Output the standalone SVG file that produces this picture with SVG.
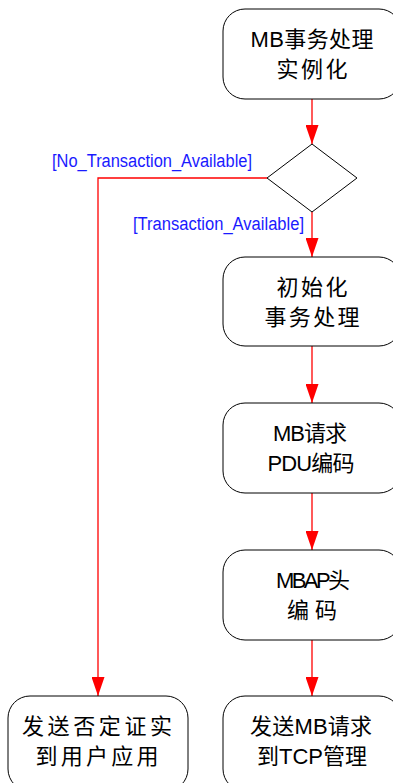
<svg xmlns="http://www.w3.org/2000/svg" width="393" height="783" viewBox="0 0 393 783">
<defs>
<style>
.box{fill:#fff;stroke:#000;stroke-width:1}
.t{font-family:"Liberation Sans","Noto Sans CJK SC",sans-serif;font-size:22px;fill:#000;text-anchor:middle}
.lbl{font-family:"Liberation Sans",sans-serif;font-size:18px;fill:#1a1aff}
.c{stroke:#f00;stroke-width:1.3;fill:none}
</style>
<marker id="ah" viewBox="0 0 19 13" refX="19" refY="6.5" markerWidth="19" markerHeight="13" markerUnits="userSpaceOnUse" orient="auto">
<path d="M0,0 L19,6.5 L0,13 Z" fill="#f00"/>
</marker>
</defs>
<rect width="393" height="783" fill="#fff"/>
<g id="connectors">
<path class="c" d="M312,99 V144" marker-end="url(#ah)"/>
<path class="c" d="M312,212 V257" marker-end="url(#ah)"/>
<path class="c" d="M312,346 V403" marker-end="url(#ah)"/>
<path class="c" d="M312,493 V550" marker-end="url(#ah)"/>
<path class="c" d="M312,640 V696" marker-end="url(#ah)"/>
<path class="c" d="M267,178 H98 V696" marker-end="url(#ah)"/>
<text class="lbl" x="52" y="167" textLength="200" lengthAdjust="spacingAndGlyphs">[No_Transaction_Available]</text>
<text class="lbl" x="133" y="230" textLength="171" lengthAdjust="spacingAndGlyphs">[Transaction_Available]</text>
</g>
<g id="n1">
<rect class="box" x="223" y="9" width="178" height="90" rx="22"/>
<text class="t" x="312" y="47" textLength="123">MB事务处理</text>
<text class="t" x="312" y="77" textLength="71">实例化</text>
</g>
<g id="decision">
<path d="M312,144 L357,178 L312,212 L267,178 Z" fill="#fff" stroke="#000" stroke-width="1"/>
</g>
<g id="n2">
<rect class="box" x="223" y="257" width="178" height="89" rx="22"/>
<text class="t" x="312" y="295" textLength="71">初始化</text>
<text class="t" x="312" y="325" textLength="95">事务处理</text>
</g>
<g id="n3">
<rect class="box" x="223" y="403" width="178" height="90" rx="22"/>
<text class="t" x="310" y="441" textLength="74">MB请求</text>
<text class="t" x="311" y="471" textLength="87">PDU编码</text>
</g>
<g id="n4">
<rect class="box" x="223" y="550" width="178" height="90" rx="22"/>
<text class="t" x="313" y="588" textLength="74">MBAP头</text>
<text class="t" x="312" y="618" textLength="50">编码</text>
</g>
<g id="n5">
<rect class="box" x="8" y="696" width="180" height="95" rx="22"/>
<text class="t" x="97" y="734" textLength="150">发送否定证实</text>
<text class="t" x="97" y="764" textLength="123">到用户应用</text>
</g>
<g id="n6">
<rect class="box" x="223" y="696" width="178" height="95" rx="22"/>
<text class="t" x="311" y="734" textLength="122">发送MB请求</text>
<text class="t" x="312" y="764" textLength="110">到TCP管理</text>
</g>
</svg>
